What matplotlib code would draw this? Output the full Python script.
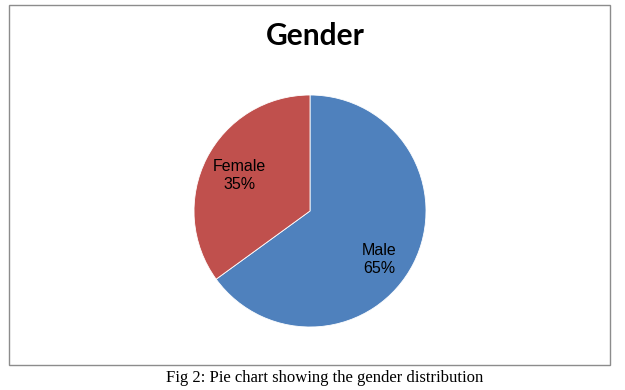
import matplotlib
matplotlib.use("Agg")
import matplotlib.pyplot as plt
from matplotlib.patches import Rectangle

labels = ["Male", "Female"]
shares = [65, 35]
colors = ["#4F81BD", "#C0504D"]
title = "Gender"
caption = "Fig 2: Pie chart showing the gender distribution"

W, H = 625, 390
fig = plt.figure(figsize=(W / 100, H / 100), dpi=100)

# chart frame
fig.patches.append(Rectangle((9 / W, 1 - 365 / H), 601 / W, 360 / H,
                             transform=fig.transFigure, fill=False,
                             edgecolor="#8c8c8c", linewidth=1.0))

cx, cy, r = 310, 211, 116
ax = fig.add_axes([(cx - r) / W, (H - cy - r) / H, 2 * r / W, 2 * r / H])
wedges, _, autotexts = ax.pie(
    shares, colors=colors, startangle=90, counterclock=False,
    autopct=lambda p: "", pctdistance=0.68,
    wedgeprops=dict(edgecolor="white", linewidth=0.6),
)
for t, lab, val in zip(autotexts, labels, shares):
    t.set_text(f"{lab}\n{val}%")
    t.set_fontsize(11.5)
    t.set_family("Liberation Sans")
    t.set_linespacing(1.25)
# Male label sits a bit lower in the original
x, y = autotexts[0].get_position()
autotexts[0].set_position((x - 0.01, y - 0.11))
ax.set_xlim(-1, 1)
ax.set_ylim(-1, 1)
ax.set_aspect("equal")

fig.text(315 / W, 1 - 45 / H, title, ha="center", va="baseline",
         fontsize=21.5, fontweight="bold", family="Lato")
fig.text(325 / W, 1 - 382 / H, caption, ha="center", va="baseline",
         fontsize=12, family="Liberation Serif")

fig.savefig("out.png", dpi=100)
